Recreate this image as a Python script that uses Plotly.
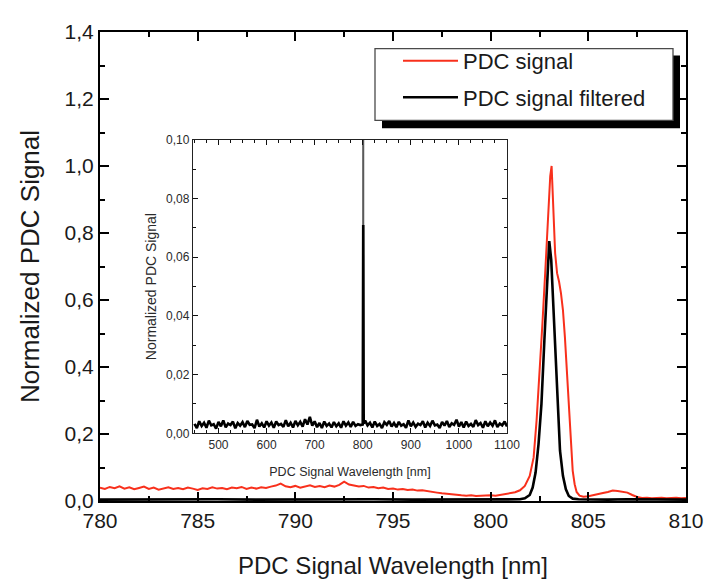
import plotly.graph_objects as go

# ---------------- data ----------------
# Main panel: unfiltered PDC signal (red)
red_base_val = [
    .040, .036, .042, .038, .044, .037, .041, .035, .039, .043, .036, .040, .034, .038, .041, .036, .039, .035, .040, .037,
    .033, .038, .036, .041, .037, .039, .035, .040, .038, .042, .036, .040, .037, .041, .039, .043, .046, .052, .044, .041,
    .045, .040, .043, .047, .042, .045, .041, .046, .043, .048, .058, .049, .046, .043, .045, .040, .042, .038, .040, .036,
    .037, .034, .036, .033, .034, .031, .032, .029, .027, .025, .023, .021, .020, .018, .017, .016, .017, .015, .016, .015,
    .017, .016, .018, .020,
]
red_base_wl = [780 + 0.25 * i for i in range(len(red_base_val))]
red_peak_wl = [801.0, 801.25, 801.5, 801.75, 802.0, 802.2, 802.35, 802.5, 802.65, 802.8, 802.95, 803.05, 803.12,
               803.2, 803.3, 803.4, 803.5, 803.6, 803.7, 803.8, 803.9, 804.0, 804.1, 804.2, 804.3, 804.4, 804.55,
               804.75, 805.0, 805.25, 805.5, 805.75, 806.0, 806.25, 806.5, 806.75, 807.0, 807.25, 807.5, 807.75,
               808.0, 808.25, 808.5, 808.75, 809.0, 809.25, 809.5, 809.75, 810.0]
red_peak_val = [.022, .026, .032, .045, .075, .13, .24, .37, .53, .69, .88, .97, 1.0,
                .89, .74, .68, .655, .62, .57, .49, .38, .27, .16, .09, .05, .027, .016,
                .013, .014, .018, .020, .024, .027, .031, .030, .028, .025, .018, .012, .009,
                .010, .008, .009, .010, .008, .009, .010, .008, .009]
red_wl = red_base_wl + red_peak_wl
red_val = red_base_val + red_peak_val

# Main panel: filtered PDC signal (black)
black_wl = [780, 782, 784, 786, 788, 790, 792, 794, 796, 798, 800, 801.5, 801.75, 802.0, 802.15, 802.3, 802.45,
            802.6, 802.75, 802.9, 803.0, 803.1, 803.25, 803.4, 803.55, 803.7, 803.85, 804.0, 804.2, 804.5,
            805, 806, 807, 808, 809, 810]
black_val = [.004, .005, .004, .005, .004, .005, .004, .005, .004, .004, .004, .005, .008, .018, .04, .085, .17,
             .29, .48, .68, .776, .72, .53, .30, .15, .075, .035, .015, .007, .005,
             .004, .004, .005, .004, .004, .004]

# Inset: broad-range spectrum (values in units of 1e-3)
inset_milli = [
    3.2, 1.8, 4.1, 2.5, 3.6, 1.9, 4.3, 2.7, 3.1, 1.6, 3.9, 2.4, 4.4, 2.0, 3.3, 2.8, 4.0, 1.7, 3.5, 2.6,
    3.8, 2.1, 4.2, 2.9, 3.0, 1.8, 4.6, 2.3, 3.4, 2.0, 4.1, 2.6, 3.7, 1.9, 4.0, 2.8, 3.2, 2.2, 4.5, 2.4,
    3.6, 2.0, 4.2, 2.7, 3.9, 2.3, 4.8, 3.0, 5.6, 2.6, 4.1, 2.1, 3.5, 1.8, 4.0, 2.5, 3.3, 2.0, 3.8, 2.4,
    3.4, 1.9, 4.1, 2.6, 3.7, 2.2, 3.9, 2.5, 3.1, 2.8,
    3.0, 71.0, 3.4,
    4.3, 2.7, 3.6, 2.0, 4.0, 2.5, 3.2, 1.8, 3.8, 2.9, 4.2, 2.3, 3.5, 2.1, 3.9, 2.6, 3.1, 1.9, 4.4, 2.4,
    3.7, 2.2, 3.3, 2.8, 4.1, 2.0, 3.6, 2.5, 4.3, 2.7, 3.0, 1.8, 3.9, 2.6, 4.2, 2.1, 3.4, 2.9, 4.6, 2.3,
    3.8, 2.0, 4.0, 2.5, 3.2, 2.2, 4.5, 2.8, 3.5, 1.9, 4.1, 2.4, 3.7, 2.6, 4.4, 2.1, 3.3, 2.7, 4.0, 2.3,
]
inset_wl = list(range(450, 800, 5)) + [800, 801, 802] + list(range(805, 1105, 5))
inset_val = [v / 1000 for v in inset_milli]
inset_peak_wl = [800, 801, 802]
inset_peak_val = [0.003, 1.0, 0.003]

# Tick labels (decimal comma, as in the reference)
main_y_ticks = [0, 0.2, 0.4, 0.6, 0.8, 1.0, 1.2, 1.4]
main_y_labels = ["0,0", "0,2", "0,4", "0,6", "0,8", "1,0", "1,2", "1,4"]
inset_y_ticks = [0, 0.02, 0.04, 0.06, 0.08, 0.10]
inset_y_labels = ["0,00", "0,02", "0,04", "0,06", "0,08", "0,10"]

# ---------------- figure ----------------
FONT = "Liberation Sans, Arial, Helvetica, sans-serif"
NARROW = "Liberation Sans Narrow, Arial Narrow, Liberation Sans, Arial, sans-serif"

fig = go.Figure()
fig.add_trace(go.Scatter(x=red_wl, y=red_val, mode="lines", name="PDC signal", legendgroup="a",
                         line=dict(color="#f8301c", width=2)))
fig.add_trace(go.Scatter(x=black_wl, y=black_val, mode="lines", name="PDC signal filtered", legendgroup="b",
                         line=dict(color="#000000", width=2.6)))
fig.add_trace(go.Scatter(x=inset_peak_wl, y=inset_peak_val, xaxis="x2", yaxis="y2", mode="lines",
                         line=dict(color="#5a5a5a", width=1.2), showlegend=False, hoverinfo="skip"))
fig.add_trace(go.Scatter(x=inset_wl, y=inset_val, xaxis="x2", yaxis="y2", mode="lines",
                         line=dict(color="#000000", width=2.6), showlegend=False))

# The page body adds an 8 px offset, so the figure is laid out 8 px up/left.
OFF = 8
W, H = 718, 580
L, T, R, B = 92, 15, 40, 87
PW, PH = W - L - R, H - T - B


def px_x(px):  # page pixel -> paper fraction
    return (px - OFF - L) / PW


def px_y(py):
    return (H - B - (py - OFF)) / PH


fig.update_layout(
    width=W, height=H, margin=dict(l=L, r=R, t=T, b=B),
    paper_bgcolor="white", plot_bgcolor="white",
    font=dict(family=FONT),
    xaxis=dict(range=[780, 810], dtick=5, showline=True, linecolor="black", linewidth=2, mirror="allticks",
               ticks="inside", ticklen=9, tickwidth=2.2, tickcolor="#000000",
               minor=dict(dtick=2.5, ticks="inside", ticklen=5, tickwidth=2.2, tickcolor="#000000"),
               showgrid=False, zeroline=False, layer="above traces",
               tickfont=dict(size=21, color="#1a1a1a"),
               title=dict(text="PDC Signal Wavelength [nm]", font=dict(size=24, color="#1a1a1a"), standoff=26)),
    yaxis=dict(range=[0, 1.4], tickmode="array", tickvals=main_y_ticks, ticktext=main_y_labels,
               showline=True, linecolor="black", linewidth=2,
               mirror="allticks", ticks="inside", ticklen=9, tickwidth=2.2, tickcolor="#000000",
               minor=dict(dtick=0.1, ticks="inside", ticklen=5, tickwidth=2.2, tickcolor="#000000"),
               showgrid=False, zeroline=False, layer="above traces",
               tickfont=dict(size=21, color="#1a1a1a"),
               title=dict(text="Normalized PDC Signal", font=dict(size=26, color="#1a1a1a"), standoff=17)),
    xaxis2=dict(domain=[px_x(193), px_x(507)], anchor="y2", range=[447, 1100], dtick=100, tick0=500,
                showline=True, linecolor="#222222", linewidth=1.4, mirror="allticks",
                ticks="inside", ticklen=5, tickwidth=1.4, tickcolor="#111111",
                minor=dict(dtick=25, ticks="inside", ticklen=3, tickwidth=1.3, tickcolor="#111111"),
                showgrid=False, zeroline=False, layer="above traces",
                tickfont=dict(size=12, family=NARROW, color="#2a2a2a"),
                title=dict(text="PDC Signal Wavelength [nm]", font=dict(size=12.5, family=NARROW, color="#2a2a2a"),
                           standoff=16)),
    yaxis2=dict(domain=[px_y(432), px_y(133)], anchor="x2", range=[0, 0.1],
                tickmode="array", tickvals=inset_y_ticks, ticktext=inset_y_labels,
                showline=True, linecolor="#222222", linewidth=1.4, mirror="allticks",
                ticks="inside", ticklen=5, tickwidth=1.4, tickcolor="#111111",
                minor=dict(dtick=0.01, ticks="inside", ticklen=3, tickwidth=1.3, tickcolor="#111111"),
                showgrid=False, zeroline=False, layer="above traces",
                tickfont=dict(size=12, family=NARROW, color="#2a2a2a"),
                title=dict(text="Normalized PDC Signal", font=dict(size=14, family=NARROW, color="#2a2a2a"),
                           standoff=6)),
    legend=dict(x=px_x(398), y=px_y(31), xanchor="left", yanchor="top",
                bgcolor="rgba(0,0,0,0)", borderwidth=0, itemwidth=55,
                font=dict(size=22, family=FONT, color="#1a1a1a"), tracegroupgap=5),
    shapes=[
        # legend frame drop shadow
        dict(type="rect", xref="paper", yref="paper", x0=px_x(382), x1=px_x(680), y0=px_y(121), y1=px_y(47),
             fillcolor="#000000", line=dict(width=0), layer="above"),
        # legend frame
        dict(type="rect", xref="paper", yref="paper", x0=px_x(375), x1=px_x(673), y0=px_y(113), y1=px_y(40),
             fillcolor="#ffffff", line=dict(color="#4a4a4a", width=1.3), layer="above"),
    ],
)

fig.write_html("out.html")
